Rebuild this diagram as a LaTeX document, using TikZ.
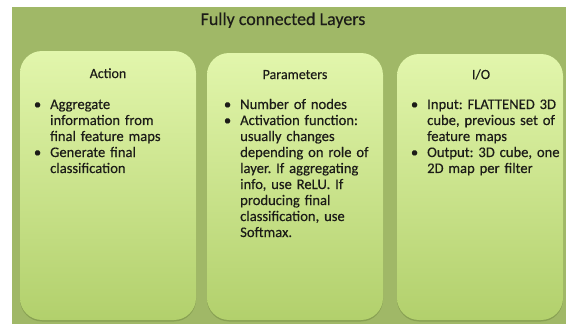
\documentclass[tikz,border=0pt]{standalone}
\usepackage{fontspec}
\setmainfont[FakeBold=0.3]{Carlito}
\usetikzlibrary{shadows}

\definecolor{panelgreen}{RGB}{160,184,103}
\definecolor{cardtop}{RGB}{226,246,172}
\definecolor{cardbottom}{RGB}{178,208,108}
\definecolor{cardshadow}{RGB}{120,145,70}
\definecolor{inktext}{RGB}{28,28,24}

% bullet hung to the left of the first line of an item
\newcommand{\bulitem}{\llap{\textbullet\hspace{9pt}}}

\tikzset{
  panel/.style={fill=panelgreen, draw=none, inner sep=0pt, outer sep=0pt, anchor=north west},
  card/.style={rounded corners=22pt, top color=cardtop, bottom color=cardbottom,
    draw=none, inner sep=0pt, outer sep=0pt,
    drop shadow={shadow xshift=0pt, shadow yshift=-1.5pt, fill=cardshadow, opacity=0.6}},
  title/.style={font=\fontsize{18}{21}\selectfont, text=inktext, anchor=base},
  heading/.style={font=\fontsize{14}{16}\selectfont, text=inktext, anchor=base},
  item/.style={font=\fontsize{14.6}{16}\selectfont\frenchspacing, text=inktext, align=left,
    anchor=base west, inner sep=0pt, text width=200pt},
}

\begin{document}
\begin{tikzpicture}[x=1pt, y=-1pt]
  \useasboundingbox (0,0) rectangle (566,324);

  % green backdrop
  \node[panel, minimum width=554pt, minimum height=317pt] (bg) at (12,7) {};
  \node[title] (head) at (283,25) {Fully connected Layers};

  % the three cards
  \node[card, minimum width=176pt, minimum height=269pt] (act) at (108,185.5) {};
  \node[card, minimum width=176pt, minimum height=267pt] (par) at (295,186.5) {};
  \node[card, minimum width=166pt, minimum height=266pt] (io)  at (480,187) {};

  % card headings
  \node[heading] (acth) at (108,78) {Action};
  \node[heading] (parh) at (295,79) {Parameters};
  \node[heading] (ioh)  at (481,79) {I/O};

  % Action items
  \node[item] (act1) at (50,109) {\bulitem Aggregate\\ information from\\ final feature maps};
  \node[item] (act2) at (50,157) {\bulitem Generate final\\ classification};

  % Parameters items
  \node[item] (par1) at (240,109) {\bulitem Number of nodes};
  \node[item] (par2) at (240,125) {\bulitem Activation function:\\ usually changes\\
    depending on role of\\ layer. If aggregating\\ info, use ReLU. If\\
    producing final\\ classification, use\\ Softmax.};

  % I/O items
  \node[item] (io1) at (427,109) {\bulitem Input: FLATTENED 3D\\ cube, previous set of\\ feature maps};
  \node[item] (io2) at (427,157) {\bulitem Output: 3D cube, one\\ 2D map per filter};
\end{tikzpicture}
\end{document}
